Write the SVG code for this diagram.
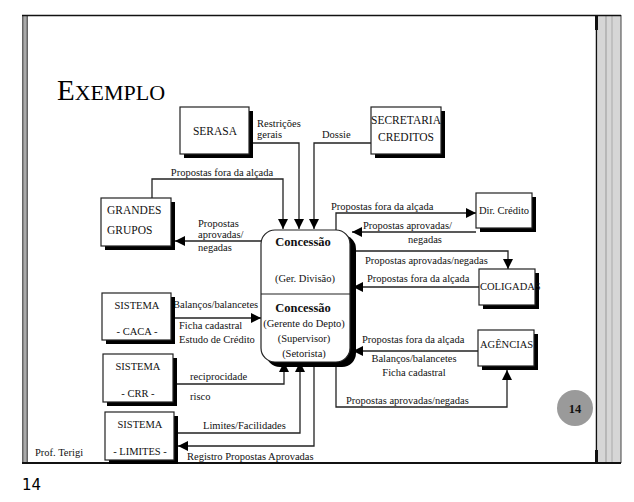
<svg xmlns="http://www.w3.org/2000/svg" width="634" height="502" viewBox="0 0 634 502" font-family="'Liberation Serif', 'Times New Roman', serif">
<defs>
<marker id="ah" viewBox="0 0 10 10" refX="10" refY="5" markerWidth="10" markerHeight="10" markerUnits="userSpaceOnUse" orient="auto">
<path d="M0,0 L10,5 L0,10 z" fill="#000"/>
</marker>
<linearGradient id="lg" x1="0" x2="1" y1="0" y2="0">
<stop offset="0" stop-color="#555"/><stop offset="0.5" stop-color="#bbb"/><stop offset="1" stop-color="#555"/>
</linearGradient>
</defs>
<style>
.t{font-family:'Liberation Serif','Times New Roman',serif;font-size:10.5px;fill:#111}
.b{font-family:'Liberation Serif','Times New Roman',serif;font-size:11.5px;fill:#111}
.bold{font-weight:bold;font-size:12.5px}
.box{fill:#fff;stroke:#222;stroke-width:1.2}
.sh{fill:#000}
.c{fill:none;stroke:#222;stroke-width:1.3;marker-end:url(#ah)}
.m{text-anchor:middle}
</style>
<rect width="634" height="502" fill="#fff"/>
<g id="frame">
<rect x="598" y="15" width="23" height="448" fill="#d6d6d6"/>
<line x1="606" y1="15" x2="606" y2="463" stroke="#999" stroke-width="1"/>
<line x1="612" y1="15" x2="612" y2="463" stroke="#aaa" stroke-width="1"/>
<line x1="621" y1="15" x2="621" y2="463" stroke="#444" stroke-width="1"/>
<rect x="22" y="16" width="6" height="447" fill="url(#lg)"/>
<line x1="22" y1="15.5" x2="621" y2="15.5" stroke="#111" stroke-width="1.5"/>
<line x1="22" y1="463" x2="621" y2="463" stroke="#111" stroke-width="2"/>
<line x1="596.5" y1="15" x2="596.5" y2="463" stroke="#111" stroke-width="1.5"/>
<rect x="595" y="15" width="3" height="15" fill="#111"/>
<rect x="595" y="450" width="3" height="13" fill="#111"/>
</g>
<text x="57" y="100" font-family="'Liberation Serif', serif" font-size="29" fill="#000">E<tspan font-size="22">XEMPLO</tspan></text>
<text x="35" y="456" class="t" font-size="10">Prof. Terigi</text>
<text x="22" y="490" font-family="'DejaVu Sans', sans-serif" font-size="15" fill="#000">14</text>
<g id="pagenum">
<circle cx="575" cy="408" r="18" fill="#9a9a9a"/>
<text x="575" y="412.5" class="b bold m" font-size="12">14</text>
</g>

<g id="connectors">
<path class="c" d="M152,198 V179 H283 V229"/>
<path class="c" d="M249,143 H299 V229"/>
<path class="c" d="M371,143 H314 V229"/>
<path class="c" d="M261,241 H175"/>
<path class="c" d="M336,231 V213 H476"/>
<path class="c" d="M476,232 H352"/>
<path class="c" d="M352,251 H508 V269"/>
<path class="c" d="M479,287 H353"/>
<path class="c" d="M478,351 H353"/>
<path class="c" d="M336,362 V407 H507 V370"/>
<path class="c" d="M175,318 H261"/>
<path class="c" d="M177,384 H284 V362"/>
<path class="c" d="M178,433 H300 V362"/>
<path class="c" d="M314,365 V446 H178"/>
</g>

<g id="labels">
<text x="257" y="127" class="t">Restrições</text>
<text x="257" y="138" class="t">gerais</text>
<text x="322" y="138" class="t">Dossie</text>
<text x="222" y="176" class="t m">Propostas fora da alçada</text>
<text x="198" y="227" class="t">Propostas</text>
<text x="198" y="238" class="t">aprovadas/</text>
<text x="198" y="251" class="t">negadas</text>
<text x="331" y="210" class="t">Propostas fora da alçada</text>
<text x="363" y="229" class="t">Propostas aprovadas/</text>
<text x="425" y="243" class="t m">negadas</text>
<text x="365" y="264" class="t">Propostas aprovadas/negadas</text>
<text x="367" y="282" class="t">Propostas fora da alçada</text>
<text x="362" y="343" class="t">Propostas fora da alçada</text>
<text x="414" y="362" class="t m">Balanços/balancetes</text>
<text x="414" y="376" class="t m">Ficha cadastral</text>
<text x="346" y="404" class="t">Propostas aprovadas/negadas</text>
<text x="173" y="308" class="t">Balanços/balancetes</text>
<text x="179" y="329" class="t">Ficha cadastral</text>
<text x="179" y="343" class="t">Estudo de Crédito</text>
<text x="190" y="380" class="t">reciprocidade</text>
<text x="190" y="400" class="t">risco</text>
<text x="203" y="429" class="t">Limites/Facilidades</text>
<text x="187" y="460" class="t">Registro Propostas Aprovadas</text>
</g>

<g id="serasa">
<rect class="sh" x="184" y="111" width="69" height="47"/>
<rect class="box" x="180" y="107" width="69" height="47"/>
<text x="215" y="135" class="b m">SERASA</text>
</g>
<g id="secretaria">
<rect class="sh" x="375" y="111" width="70" height="47"/>
<rect class="box" x="371" y="107" width="70" height="47"/>
<text x="406" y="124" class="b m">SECRETARIA</text>
<text x="406" y="141" class="b m">CREDITOS</text>
</g>
<g id="grandes">
<rect class="sh" x="105" y="202" width="70" height="48"/>
<rect class="box" x="101" y="198" width="70" height="48"/>
<text x="107" y="214" class="b">GRANDES</text>
<text x="107" y="234" class="b">GRUPOS</text>
</g>
<g id="concessao">
<rect class="sh" x="266" y="235" width="90" height="132" rx="14"/>
<rect class="box" x="261" y="230" width="89" height="132" rx="14" stroke-width="1.5"/>
<line x1="261" y1="294" x2="350" y2="294" stroke="#222" stroke-width="1.2"/>
<text x="303" y="246" class="b bold m">Concessão</text>
<text x="305" y="282" class="t m">(Ger. Divisão)</text>
<text x="303" y="312" class="b bold m">Concessão</text>
<text x="304" y="327" class="t m">(Gerente do Depto)</text>
<text x="304" y="342" class="t m">(Supervisor)</text>
<text x="304" y="357" class="t m">(Setorista)</text>
</g>
<g id="dircredito">
<rect class="sh" x="480" y="197" width="56" height="35"/>
<rect class="box" x="476" y="193" width="56" height="35"/>
<text x="504" y="214" class="t m">Dir. Crédito</text>
</g>
<g id="coligadas">
<rect class="sh" x="483" y="273" width="56" height="36"/>
<rect class="box" x="479" y="269" width="56" height="36"/>
<text x="480" y="290" class="t">COLIGADAS</text>
</g>
<g id="agencias">
<rect class="sh" x="482" y="334" width="56" height="36"/>
<rect class="box" x="478" y="330" width="56" height="36"/>
<text x="480" y="348" class="t">AGÊNCIAS</text>
</g>
<g id="caca">
<rect class="sh" x="106" y="297" width="69" height="47"/>
<rect class="box" x="102" y="293" width="69" height="47"/>
<text x="137" y="309" class="t m">SISTEMA</text>
<text x="137" y="335" class="t m">- CACA -</text>
</g>
<g id="crr">
<rect class="sh" x="107" y="358" width="70" height="48"/>
<rect class="box" x="103" y="354" width="70" height="48"/>
<text x="138" y="370" class="t m">SISTEMA</text>
<text x="138" y="397" class="t m">- CRR -</text>
</g>
<g id="limites">
<rect class="sh" x="109" y="416" width="69" height="48"/>
<rect class="box" x="105" y="412" width="69" height="48"/>
<text x="140" y="428" class="t m">SISTEMA</text>
<text x="140" y="455" class="t m">- LIMITES -</text>
</g>
</svg>
